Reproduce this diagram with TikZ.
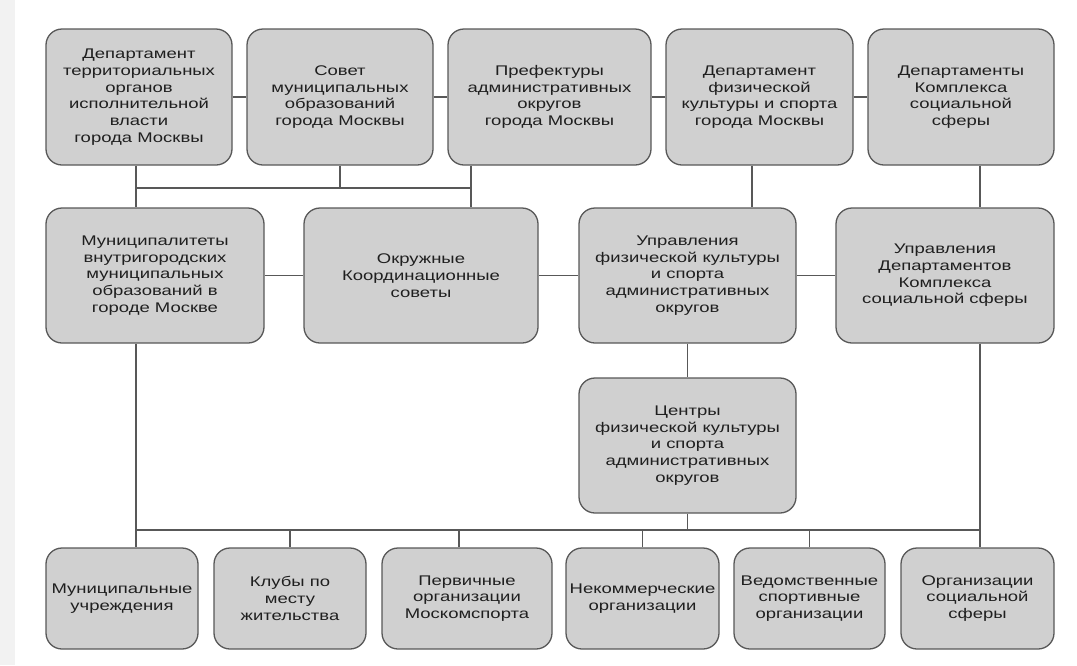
\documentclass[tikz,border=0pt]{standalone}
\usepackage{fontspec}
\setmainfont[FakeStretch=1.32]{Liberation Sans}
\definecolor{boxgray}{RGB}{208,208,208}
\definecolor{linegray}{RGB}{88,88,88}
\begin{document}
\begin{tikzpicture}[x=1pt,y=-1pt,font=\fontsize{14}{16.7}\selectfont,
        box/.style={draw=linegray,fill=boxgray,line width=1.3pt,rounded corners=16pt,
                    align=center,inner sep=0pt,text=black!88},
        link/.style={draw=linegray,line width=1.3pt}]
                \useasboundingbox (0,0) rectangle (1077,665);
                \fill[black!5] (0,0) rectangle (15,665);
                % top row
                \node[box,minimum width=186,minimum height=136] (dto) at (139,97)
                    {Департамент\\территориальных\\органов\\исполнительной\\власти\\города Москвы};
                \node[box,minimum width=186,minimum height=136] (sov) at (340,97)
                    {Совет\\муниципальных\\образований\\города Москвы};
                \node[box,minimum width=203,minimum height=136] (pref) at (549.5,97)
                    {Префектуры\\административных\\округов\\города Москвы};
                \node[box,minimum width=187,minimum height=136] (dfk) at (759.5,97)
                    {Департамент\\физической\\культуры и спорта\\города Москвы};
                \node[box,minimum width=186,minimum height=136] (dks) at (961,97)
                    {Департаменты\\Комплекса\\социальной\\сферы};
                % middle row
                \node[box,minimum width=218,minimum height=135] (mun) at (155,275.5)
                    {Муниципалитеты\\внутригородских\\муниципальных\\образований в\\городе Москве};
                \node[box,minimum width=234,minimum height=135] (okr) at (421,275.5)
                    {Окружные\\Координационные\\советы};
                \node[box,minimum width=217,minimum height=135] (ufk) at (687.5,275.5)
                    {Управления\\физической культуры\\и спорта\\административных\\округов};
                \node[box,minimum width=218,minimum height=135] (uks) at (945,275.5)
                    {Управления\\Департаментов\\Комплекса\\социальной сферы};
                \node[box,minimum width=217,minimum height=135] (cfk) at (687.5,445.5)
                    {Центры\\физической культуры\\и спорта\\административных\\округов};
                % bottom row
                \node[box,minimum width=152,minimum height=101] (mu) at (122,598.5)
                    {Муниципальные\\учреждения};
                \node[box,minimum width=152,minimum height=101] (kmj) at (290,598.5)
                    {Клубы по\\месту\\жительства};
                \node[box,minimum width=170,minimum height=101] (por) at (467,598.5)
                    {Первичные\\организации\\Москомспорта};
                \node[box,minimum width=153,minimum height=101] (nko) at (642.5,598.5)
                    {Некоммерческие\\организации};
                \node[box,minimum width=151,minimum height=101] (vso) at (809.5,598.5)
                    {Ведомственные\\спортивные\\организации};
                \node[box,minimum width=153,minimum height=101] (osf) at (977.5,598.5)
                    {Организации\\социальной\\сферы};
                % trunks
                \coordinate (lx) at (136,188);
                \coordinate (tx) at (471,188);
                \coordinate (fx) at (752,188);
                \coordinate (rx) at (980,530);
                % links
                \draw[link] (dto.east) -- (sov.west);
                \draw[link] (sov.east) -- (pref.west);
                \draw[link] (pref.east) -- (dfk.west);
                \draw[link] (dfk.east) -- (dks.west);
                \draw[link] (mun.east) -- (okr.west);
                \draw[link] (okr.east) -- (ufk.west);
                \draw[link] (ufk.east) -- (uks.west);
                \draw[link] (dto.south -| lx) -- (mun.north -| lx);
                \draw[link] (sov.south) -- (sov.south |- lx);
                \draw[link] (pref.south -| tx) -- (okr.north -| tx);
                \draw[link] (lx) -- (tx);
                \draw[link] (dfk.south -| fx) -- (ufk.north -| fx);
                \draw[link] (dks.south -| rx) -- (uks.north -| rx);
                \draw[link] (ufk.south) -- (cfk.north);
                \draw[link] (mun.south -| lx) -- (mu.north -| lx);
                \draw[link] (uks.south -| rx) -- (osf.north -| rx);
                \draw[link] (cfk.south) -- (cfk.south |- rx);
                \draw[link] (lx |- rx) -- (rx);
                \foreach \n/\dx in {kmj/0,por/-8,nko/0,vso/0}{
                    \draw[link] ([xshift=\dx]\n.north) -- ([xshift=\dx]\n.north |- rx);
                }
            \end{tikzpicture}
\end{document}
